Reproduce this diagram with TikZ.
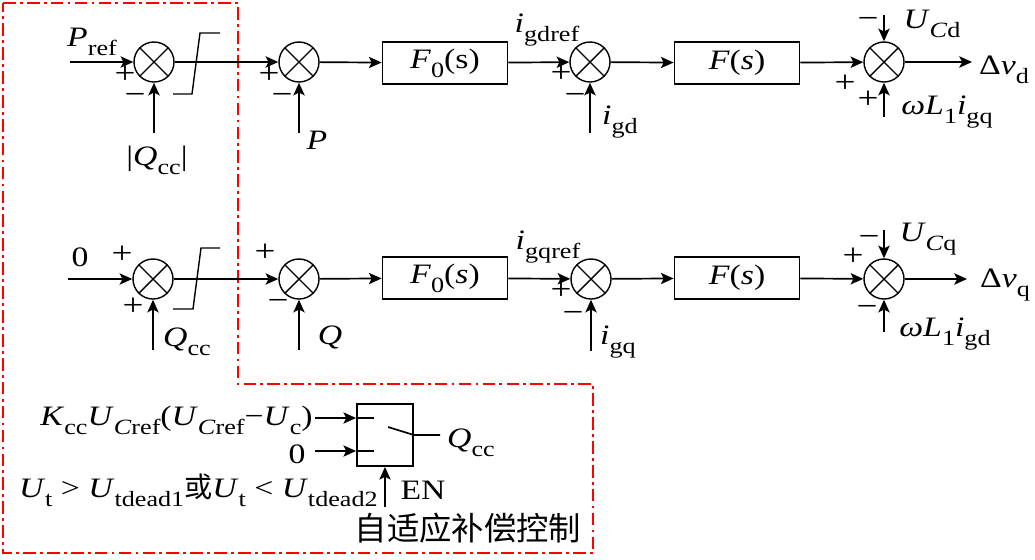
\documentclass[tikz,border=0pt]{standalone}
\usepackage{fontspec}
\setmainfont{Liberation Serif}[FakeStretch=1.2]
\newfontfamily\cjk{Noto Sans CJK SC}
\usetikzlibrary{arrows.meta}
\newcommand\sbs[1]{\raisebox{-6.5pt}{\fontsize{15.5}{16}\selectfont #1}}
\newcommand\iv[1]{\textit{#1}}
\begin{document}
\begin{tikzpicture}[x=0.025cm,y=-0.025cm,
  every node/.style={font=\fontsize{20}{24}\selectfont, inner sep=0pt},
  sumnode/.style={circle,draw,line width=1pt,minimum size=1cm,
    path picture={\draw[line width=1pt] (path picture bounding box.south west) -- (path picture bounding box.north east)
      (path picture bounding box.north west) -- (path picture bounding box.south east);}},
  blk/.style={draw,line width=1.3pt,minimum width=3.125cm,minimum height=1.05cm},
  swblk/.style={draw,line width=1.3pt,minimum width=1.4cm,minimum height=1.55cm},
  sg/.style={font=\fontsize{22}{24}\selectfont,text height=0.5em,text depth=0pt},
  arr/.style={-{Stealth[length=9pt,width=8pt,inset=2pt]},line width=1.2pt},
  ln/.style={line width=1.2pt},
  frame/.style={red,line width=1.3pt,dash pattern=on 9pt off 3pt on 2pt off 3pt}]
\useasboundingbox (0,0) rectangle (1035,560);
% frame
\draw[frame] (3,3) -- (238,3) -- (238,384) -- (593,384) -- (593,553) -- (3,553) -- cycle;
% ---------- upper row ----------
\node[sumnode] (s1) at (154,62) {};
\node[sumnode] (s2) at (299,62) {};
\node[blk] (f0a) at (445,63) {\iv{F}\sbs{0}(s)};
\node[sumnode] (s3) at (590,62) {};
\node[blk] (fa) at (737,63) {\iv{F}(\iv{s})};
\node[sumnode] (s4) at (884,62) {};
\coordinate (pin) at (70,62);
\coordinate (qa) at (154,133);
\coordinate (pa) at (299,133);
\coordinate (ia) at (590,133);
\coordinate (ua) at (884,15);
\coordinate (wa) at (884,117);
\coordinate (oa) at (972,62);
\draw[arr] (pin) -- (s1);
\draw[arr] (qa) -- (s1);
\draw[arr] (s1) -- (s2);
\draw[arr] (pa) -- (s2);
\draw[arr] (s2) -- (f0a);
\draw[arr] (f0a) -- (s3);
\draw[arr] (ia) -- (s3);
\draw[arr] (s3) -- (fa);
\draw[arr] (fa) -- (s4);
\draw[arr] (ua) -- (s4);
\draw[arr] (wa) -- (s4);
\draw[arr] (s4) -- (oa);
\draw[line width=1pt] (173,94) -- (192,94) -- (200,33) -- (220,33);
\node (lpref) at (92,42) {\iv{P}\sbs{ref}};
\node (lqcca) at (157,160) {|\iv{Q}\sbs{cc}|};
\node (lp) at (317,140) {\iv{P}};
\node (ligdref) at (547,30) {\iv{i}\sbs{gdref}};
\node (ligd) at (620,122) {\iv{i}\sbs{gd}};
\node (lucd) at (932,24) {\iv{U}\sbs{\iv{C}d}};
\node (ldvd) at (1004,70) {Δ\iv{v}\sbs{d}};
\node (lwl1) at (947,112) {\iv{ωL}\sbs{1}\iv{i}\sbs{gq}};
\node[sg] (sa1) at (125,80) {+};
\node[sg] (sa2) at (135,101) {−};
\node[sg] (sa3) at (269,80) {+};
\node[sg] (sa4) at (282,101) {−};
\node[sg] (sa5) at (561,79) {+};
\node[sg] (sa6) at (575,101) {−};
\node[sg] (sa7) at (868,25) {−};
\node[sg] (sa8) at (845,89) {+};
\node[sg] (sa9) at (868,105) {+};
% ---------- lower row ----------
\node[sumnode] (s5) at (153,279) {};
\node[sumnode] (s6) at (299,279) {};
\node[blk] (f0b) at (445,278) {\iv{F}\sbs{0}(\iv{s})};
\node[sumnode] (s7) at (591,279) {};
\node[blk] (fb) at (737,278) {\iv{F}(\iv{s})};
\node[sumnode] (s8) at (884,279) {};
\coordinate (zin) at (68,279);
\coordinate (qb) at (153,350);
\coordinate (qq) at (299,350);
\coordinate (ib) at (591,351);
\coordinate (ub) at (884,230);
\coordinate (wb) at (884,332);
\coordinate (ob) at (967,279);
\draw[arr] (zin) -- (s5);
\draw[arr] (qb) -- (s5);
\draw[arr] (s5) -- (s6);
\draw[arr] (qq) -- (s6);
\draw[arr] (s6) -- (f0b);
\draw[arr] (f0b) -- (s7);
\draw[arr] (ib) -- (s7);
\draw[arr] (s7) -- (fb);
\draw[arr] (fb) -- (s8);
\draw[arr] (ub) -- (s8);
\draw[arr] (wb) -- (s8);
\draw[arr] (s8) -- (ob);
\draw[line width=1pt] (173,309) -- (193,309) -- (201,248) -- (220,248);
\node (lzero) at (80,257) {0};
\node (lqccb) at (187,342) {\iv{Q}\sbs{cc}};
\node (lq) at (330,337) {\iv{Q}};
\node (ligqref) at (548,247) {\iv{i}\sbs{gqref}};
\node (ligq) at (618,342) {\iv{i}\sbs{gq}};
\node (lucq) at (928,239) {\iv{U}\sbs{\iv{C}q}};
\node (ldvq) at (1005,285) {Δ\iv{v}\sbs{q}};
\node (lwl2) at (945,334) {\iv{ωL}\sbs{1}\iv{i}\sbs{gd}};
\node[sg] (sb1) at (122,260) {+};
\node[sg] (sb2) at (133,312) {+};
\node[sg] (sb3) at (265,258) {+};
\node[sg] (sb4) at (278,307) {−};
\node[sg] (sb5) at (561,296) {+};
\node[sg] (sb6) at (573,319) {−};
\node[sg] (sb7) at (869,243) {−};
\node[sg] (sb8) at (853,262) {+};
\node[sg] (sb9) at (867,313) {−};
% ---------- switch block ----------
\node[swblk] (sw) at (385,435) {};
\coordinate (in1) at (315,418);
\coordinate (in2) at (315,451);
\coordinate (en) at (385,507);
\coordinate (swo) at (440,435);
\draw[arr] (in1) -- (in1 -| sw.west);
\draw[arr] (in2) -- (in2 -| sw.west);
\draw[ln] (in1 -| sw.west) -- ++(18,0);
\draw[ln] (in2 -| sw.west) -- ++(18,0);
\draw[ln] (388,427) -- (sw.east) -- (swo);
\draw[arr] (en) -- (sw.south);
\node[anchor=base east] (lk) at (313,425) {\iv{K}\sbs{cc}\iv{U}\sbs{\iv{C}ref}(\iv{U}\sbs{\iv{C}ref}−\iv{U}\sbs{c})};
\node[anchor=base] (lz2) at (297,463) {0};
\node (lqccc) at (471,443) {\iv{Q}\sbs{cc}};
\node[anchor=base east] (lut) at (378,497) {\iv{U}\sbs{t}\hspace{6pt}>\hspace{6pt}\iv{U}\sbs{tdead1}{\cjk 或}\iv{U}\sbs{t}\hspace{6pt}<\hspace{6pt}\iv{U}\sbs{tdead2}};
\node (len) at (423,490) {EN};
\node (lcn) at (468,528) {\cjk\fontsize{23}{26}\selectfont 自适应补偿控制};
\end{tikzpicture}
\end{document}
